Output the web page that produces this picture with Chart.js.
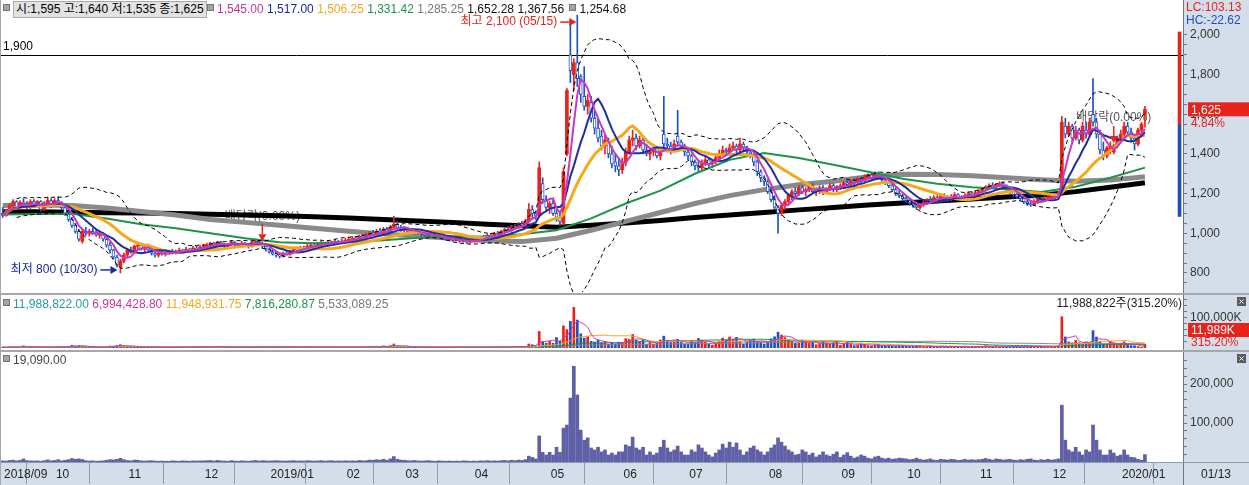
<!DOCTYPE html>
<html>
<head>
<meta charset="utf-8">
<script src="https://cdn.jsdelivr.net/npm/chart.js@4.4.1/dist/chart.umd.min.js"></script>
<style>
  html, body { margin: 0; padding: 0; background: #fff; }
  #wrap { position: relative; width: 1249px; height: 485px; background: #a7a7a7; overflow: hidden;
          font: 12px "Liberation Sans", "Noto Sans CJK KR", sans-serif; }
  .pane { position: absolute; left: 1px; width: 1248px; }
  .lg { position: absolute; white-space: nowrap; line-height: 14px; }
  .sq { display: inline-block; width: 5px; height: 5px; background: #a4a4a4; border: 1px solid #777;
        margin-right: 3px; vertical-align: 2px; }
  #ohlcBox { display: inline-block; background: #e3e3e3; border: 1px solid #a9a9a9; padding: 0 2px; line-height: 15px; }
</style>
</head>
<body>
<div id="wrap">
  <div class="pane" style="top:0;height:293px"><canvas id="priceChart"></canvas></div>
  <div class="pane" style="top:295px;height:55px"><canvas id="volChart"></canvas></div>
  <div class="pane" style="top:352px;height:133px"><canvas id="amtChart"></canvas></div>

  <div class="lg" style="left:3px;top:1px"><span class="sq"></span><span id="ohlcBox"></span></div>
  <div class="lg" style="left:207px;top:2px"><span class="sq"></span><span style="color:#c8349c">1,545.00</span>
    <span style="color:#1c2b8f">1,517.00</span> <span style="color:#f2a81d">1,506.25</span>
    <span style="color:#1b9446">1,331.42</span> <span style="color:#777">1,285.25</span>
    <span style="color:#111">1,652.28</span> <span style="color:#111">1,367.56</span>
    <span class="sq" style="margin-left:2px"></span><span style="color:#111">1,254.68</span></div>

  <div class="lg" style="left:3px;top:297px"><span class="sq"></span><span id="volLast" style="color:#2a9a9a"></span>
    <span style="color:#c8349c">6,994,428.80</span> <span style="color:#f2a81d">11,948,931.75</span>
    <span style="color:#1b9446">7,816,280.87</span> <span style="color:#777">5,533,089.25</span></div>
  <div class="lg" id="volInfo" style="right:67px;top:296px;color:#222"></div>

  <div class="lg" style="left:3px;top:353px"><span class="sq"></span><span id="amtLast" style="color:#444"></span></div>
</div>

<script>
  // trading-day axis: month starts (index of first session) and their labels
  const monthStarts = [0, 15, 36, 58, 77, 99, 116, 136, 158, 179, 198, 221, 242, 261, 282, 303, 323];
  const monthLabels = ['2018/09', '10', '11', '12', '2019/01', '02', '03', '04', '05', '06', '07', '08', '09', '10', '11', '12', '2020/01'];
  const lastDateLabel = '01/13';
  const maxDateLabel = '05/15';
  const minDateLabel = '10/30';

  const opens = [
    1100,1090,1115,1140,1160,1130,1155,1150,1130,1160,1140,1160,1120,1150,1165,
    1145,1165,1155,1130,1100,1070,1040,1010,960,1010,1000,1010,1000,990,1000,970,940,915,880,830,860,
    890,915,905,935,940,920,930,915,900,890,900,895,905,900,910,905,915,910,920,915,925,920,
    930,935,940,950,940,955,945,935,945,955,945,940,950,945,935,955,960,945,935,
    920,905,895,890,885,900,895,910,920,915,930,925,935,940,935,945,950,945,955,950,960,955,
    960,965,970,975,970,985,980,990,1000,995,1010,1005,1020,1010,1030,1045,1030,
    1020,1025,1010,1015,1000,1005,995,990,1000,985,980,990,975,970,975,965,970,960,965,955,
    960,970,965,980,975,990,985,1000,995,1010,1020,1015,1035,1030,1045,1040,1060,1120,1100,1090,1250,1170,
    1130,1150,1100,1080,1050,1400,1900,1800,1860,1790,1690,1640,1660,1580,1530,1490,1440,1460,1400,1360,1340,
    1320,1360,1410,1470,1480,1440,1470,1420,1400,1410,1430,1390,1500,1450,1440,1420,1490,1460,1440,
    1410,1390,1360,1340,1330,1350,1370,1350,1360,1380,1400,1420,1410,1430,1440,1420,1450,1430,1410,1400,1360,1310,1280,
    1260,1210,1170,1130,1100,1140,1160,1190,1210,1200,1230,1210,1220,1240,1210,1220,1230,1205,1225,1240,1220,
    1235,1240,1255,1245,1265,1255,1275,1265,1285,1295,1280,1300,1285,1270,1255,1240,1220,1200,1190,
    1175,1165,1150,1140,1130,1145,1155,1170,1165,1180,1170,1190,1180,1170,1185,1195,1180,1175,1190,1200,1195,
    1205,1215,1225,1235,1240,1235,1245,1250,1235,1225,1210,1195,1185,1175,1160,1150,1145,1160,1170,1165,1175,
    1180,1185,1190,1200,1540,1500,1540,1480,1520,1470,1520,1500,1600,1560,1500,1420,1390,1420,1410,1440,
    1480,1500,1540,1510,1480,1450,1520,1595
  ];
  const highs = [
    1130,1120,1150,1170,1165,1165,1175,1160,1170,1170,1165,1165,1160,1180,1175,
    1175,1185,1160,1140,1110,1080,1050,1020,1020,1030,1020,1025,1015,1010,1005,980,955,920,890,870,900,
    925,930,940,955,950,935,945,925,910,905,915,910,915,920,915,925,920,930,925,935,935,940,
    945,950,955,955,960,960,950,950,965,960,950,960,955,950,960,970,965,955,940,
    925,915,905,900,905,910,915,925,930,935,935,945,950,945,955,960,955,965,960,970,965,970,
    975,980,985,980,990,995,1000,1010,1015,1020,1025,1030,1030,1040,1085,1060,1040,
    1035,1030,1025,1020,1015,1010,1000,1010,1005,995,1000,995,985,985,980,980,975,975,970,970,
    975,980,985,990,995,1000,1005,1010,1015,1025,1035,1040,1045,1055,1060,1070,1150,1140,1110,1360,1280,1190,
    1160,1170,1120,1100,1330,1730,2070,1880,2100,1800,1840,1700,1690,1620,1580,1520,1500,1480,1440,1400,1380,
    1380,1430,1490,1520,1500,1490,1480,1450,1430,1440,1440,1420,1690,1480,1460,1470,1620,1470,1450,
    1420,1400,1370,1360,1370,1390,1380,1370,1400,1420,1440,1430,1450,1460,1450,1480,1460,1440,1420,1400,1370,1320,1290,
    1270,1230,1190,1140,1150,1170,1200,1220,1230,1240,1240,1230,1250,1250,1230,1240,1240,1230,1250,1250,1240,
    1250,1260,1265,1270,1275,1285,1285,1295,1300,1305,1310,1310,1295,1280,1265,1250,1230,1215,1200,
    1185,1175,1160,1150,1150,1165,1175,1185,1190,1190,1200,1200,1190,1195,1205,1200,1190,1200,1210,1210,1215,
    1220,1230,1240,1250,1255,1250,1260,1255,1245,1230,1215,1200,1195,1180,1170,1165,1170,1180,1180,1185,1190,
    1195,1200,1210,1590,1580,1560,1550,1540,1530,1560,1560,1580,1780,1580,1520,1460,1440,1460,1450,1490,
    1520,1560,1560,1530,1500,1530,1560,1640
  ];
  const lows = [
    1080,1085,1110,1130,1120,1125,1140,1120,1125,1130,1135,1110,1115,1140,1130,
    1140,1150,1120,1090,1060,1030,1000,960,950,990,985,995,985,975,960,930,900,870,830,800,850,
    880,900,900,920,915,905,910,890,880,880,890,885,895,895,895,900,900,905,905,910,910,915,
    920,925,930,930,935,935,925,930,940,935,930,935,935,925,930,945,940,925,910,
    900,890,880,875,880,890,890,905,905,910,915,920,930,925,930,940,935,940,940,945,945,950,
    955,960,965,960,965,970,975,985,990,990,1000,1000,1005,1005,1025,1020,1010,
    1005,1000,1000,995,995,985,980,985,980,975,975,970,965,965,960,960,955,955,950,950,
    955,960,960,965,970,980,980,990,990,1000,1010,1010,1020,1025,1030,1035,1055,1080,1070,1085,1150,1110,
    1100,1090,1060,1040,1040,1390,1760,1720,1740,1660,1620,1600,1560,1500,1460,1420,1400,1380,1330,1310,1290,
    1300,1340,1400,1440,1420,1430,1400,1390,1370,1390,1380,1370,1430,1420,1400,1410,1440,1420,1390,
    1370,1340,1320,1310,1320,1340,1330,1330,1350,1370,1390,1390,1400,1420,1400,1410,1410,1390,1380,1340,1290,1260,1240,
    1200,1160,1120,1000,1090,1120,1150,1170,1180,1190,1200,1190,1210,1200,1190,1200,1195,1200,1215,1210,1210,
    1220,1230,1230,1240,1245,1250,1255,1260,1270,1270,1275,1275,1260,1245,1230,1210,1190,1180,1165,
    1155,1140,1130,1120,1120,1135,1145,1155,1160,1160,1165,1170,1160,1165,1175,1170,1165,1170,1185,1185,1190,
    1195,1205,1215,1225,1225,1225,1235,1225,1215,1200,1185,1175,1165,1150,1140,1135,1140,1150,1155,1160,1170,
    1170,1175,1180,1190,1480,1490,1460,1470,1450,1460,1480,1490,1540,1480,1400,1370,1380,1400,1400,1430,
    1460,1480,1490,1460,1420,1440,1500,1535
  ];
  const closes = [
    1090,1115,1140,1160,1130,1155,1150,1130,1160,1140,1160,1120,1150,1165,1145,
    1165,1155,1130,1100,1070,1040,1010,970,1010,1000,1010,1000,990,1000,970,940,915,880,840,860,890,
    915,905,935,940,920,930,915,900,890,900,895,905,900,910,905,915,910,920,915,925,920,930,
    935,940,950,940,955,945,935,945,955,945,940,950,945,935,955,960,950,935,920,
    905,895,890,885,900,895,910,920,915,930,925,935,940,935,945,950,945,955,950,960,955,960,
    965,970,975,970,985,980,990,1000,995,1010,1005,1020,1010,1030,1045,1030,1020,
    1025,1010,1015,1000,1005,995,990,1000,985,980,990,975,970,975,965,970,960,965,955,960,
    970,965,980,975,990,985,1000,995,1010,1020,1015,1035,1030,1045,1040,1060,1120,1100,1085,1330,1170,1130,
    1150,1100,1080,1060,1310,1720,1820,1860,1780,1700,1640,1670,1580,1530,1480,1440,1470,1400,1350,1340,1320,
    1360,1410,1470,1480,1440,1470,1420,1400,1410,1430,1390,1410,1450,1440,1420,1450,1460,1440,1410,
    1390,1360,1340,1330,1350,1370,1350,1360,1380,1400,1420,1410,1430,1440,1420,1450,1430,1410,1400,1360,1310,1280,1260,
    1210,1170,1130,1100,1140,1160,1190,1210,1200,1230,1210,1220,1240,1210,1220,1230,1205,1225,1240,1220,1235,
    1240,1255,1245,1265,1255,1275,1265,1285,1295,1280,1300,1285,1270,1255,1240,1220,1200,1190,1175,
    1165,1150,1140,1130,1145,1155,1170,1165,1180,1170,1190,1180,1170,1185,1195,1180,1175,1190,1200,1195,1205,
    1215,1225,1235,1240,1235,1245,1250,1235,1225,1210,1195,1185,1175,1160,1150,1145,1160,1170,1165,1175,1180,
    1185,1190,1200,1560,1500,1540,1480,1520,1470,1540,1500,1560,1560,1500,1420,1390,1430,1440,1440,1480,
    1500,1540,1510,1480,1450,1520,1550,1625
  ];
  // volume, thousand shares
  const volumesK = [
    2700,2200,3500,4400,2700,4000,7100,3100,2700,2200,2700,1800,3100,4800,2600,
    3500,5200,2600,4100,5600,8700,7000,8300,6500,3500,2500,3000,2000,2500,3100,4800,6600,6300,8300,11000,6700,
    4400,3300,5300,4800,3300,2700,3300,3900,2800,2200,2800,2200,2200,3300,2800,2200,3300,2700,2200,3200,2700,3200,
    3200,3700,4200,2700,4200,3200,2700,2100,3700,2600,2100,3200,2600,2100,3100,4200,2600,3700,3300,
    2700,3300,3900,3400,2800,2800,3300,3800,2700,3300,2700,3700,3200,2700,3200,3700,2600,3100,3700,2600,3100,2600,
    3100,2600,3100,2600,4100,3100,3500,5000,4500,5900,5000,6900,4500,7800,13400,6800,4900,
    4400,3500,3000,4000,3000,2500,3000,3500,2500,2000,3000,2600,2100,2600,2100,2600,2100,3100,2600,2100,
    2600,2100,3100,2600,3500,2500,3000,2500,3500,3900,2900,4400,3400,4800,3800,5700,13400,10900,7400,55000,21000,15900,
    21700,16000,34900,23400,73700,60900,88600,135000,93000,47100,32900,37600,22200,20000,25200,17700,21400,12600,16700,13300,19500,
    18300,31000,28200,45000,25400,21800,26800,12700,18300,12700,16200,26800,39400,25400,18300,21800,28900,18300,12700,
    12900,22300,18700,31700,25900,18700,12900,9400,16500,22300,33100,25900,36700,27300,35300,22300,12900,18700,25900,29500,22300,18700,12900,
    22000,30500,37300,52500,43200,34700,26300,22000,15300,16900,26300,22000,15300,19500,11000,15300,22000,15300,12700,16900,22000,
    9500,14300,19000,11900,7900,10300,14300,11900,7900,6300,10300,11900,7900,6300,7900,5600,6600,8400,7600,
    6800,5100,6000,8500,6000,4300,5100,6800,4300,3400,6000,5100,4300,6000,5100,3400,4300,6000,4300,5100,4300,
    5000,5800,7500,5800,4200,6700,5800,4200,5000,5800,4200,3300,5000,4200,5800,6700,4200,3300,5000,4200,5800,
    4200,5000,6700,104000,36800,20400,17300,25300,17400,12000,20400,16900,57900,36600,21200,12800,12800,21700,16100,10300,
    12000,20400,11800,8000,7500,4600,2887.5,11988.822
  ];
  // trading value, million won
  const valuesM = [
    3000,2500,4000,5000,3000,4500,8000,3500,3000,2500,3000,2000,3500,5500,3000,
    4000,6000,3000,4500,6000,9000,7000,8000,6500,3500,2500,3000,2000,2500,3000,4500,6000,5500,7000,9500,6000,
    4000,3000,5000,4500,3000,2500,3000,3500,2500,2000,2500,2000,2000,3000,2500,2000,3000,2500,2000,3000,2500,3000,
    3000,3500,4000,2500,4000,3000,2500,2000,3500,2500,2000,3000,2500,2000,3000,4000,2500,3500,3000,
    2500,3000,3500,3000,2500,2500,3000,3500,2500,3000,2500,3500,3000,2500,3000,3500,2500,3000,3500,2500,3000,2500,
    3000,2500,3000,2500,4000,3000,3500,5000,4500,6000,5000,7000,4500,8000,14000,7000,5000,
    4500,3500,3000,4000,3000,2500,3000,3500,2500,2000,3000,2500,2000,2500,2000,2500,2000,3000,2500,2000,
    2500,2000,3000,2500,3500,2500,3000,2500,3500,4000,3000,4500,3500,5000,4000,6000,15000,12000,8000,67000,25000,18000,
    25000,18000,38000,25000,87000,95000,164000,246000,172000,82000,56000,62000,36000,31000,38000,26000,31000,18000,23000,18000,26000,
    26000,44000,40000,64000,36000,31000,38000,18000,26000,18000,23000,38000,56000,36000,26000,31000,41000,26000,18000,
    18000,31000,26000,44000,36000,26000,18000,13000,23000,31000,46000,36000,51000,38000,49000,31000,18000,26000,36000,41000,31000,26000,18000,
    26000,36000,44000,62000,51000,41000,31000,26000,18000,20000,31000,26000,18000,23000,13000,18000,26000,18000,15000,20000,26000,
    12000,18000,24000,15000,10000,13000,18000,15000,10000,8000,13000,15000,10000,8000,10000,7000,8000,10000,9000,
    8000,6000,7000,10000,7000,5000,6000,8000,5000,4000,7000,6000,5000,7000,6000,4000,5000,7000,5000,6000,5000,
    6000,7000,9000,7000,5000,8000,7000,5000,6000,7000,5000,4000,6000,5000,7000,8000,5000,4000,6000,5000,7000,
    5000,6000,8000,146000,56000,31000,26000,38000,26000,18000,31000,26000,95000,56000,31000,18000,18000,31000,23000,15000,
    18000,31000,18000,12000,11000,7000,4400,19090
  ];

  // long moving averages (60 / 120 / 240), read every 10 sessions
  const maDays = [0,10,20,30,40,50,60,70,80,90,100,110,120,130,140,150,160,170,180,190,200,210,220,230,240,250,260,270,280,290,300,310,320,330];
  const ma60Line = [1095,1097,1098,1075,1045,1025,1000,975,955,950,955,965,978,985,983,995,1015,1075,1150,1215,1300,1370,1405,1380,1345,1310,1275,1250,1232,1222,1208,1235,1280,1331];
  const ma120Line = [1140,1142,1140,1128,1110,1092,1070,1055,1040,1025,1010,997,985,975,962,958,975,1015,1060,1105,1150,1190,1220,1245,1262,1285,1298,1296,1290,1280,1270,1262,1268,1285];
  const ma240Line = [1108,1108,1106,1104,1102,1100,1096,1092,1088,1083,1077,1070,1062,1055,1046,1038,1030,1040,1052,1065,1080,1092,1105,1118,1130,1142,1153,1163,1173,1183,1192,1210,1232,1255];

  const hLineValue = 1900;
  const exDivDays = [75, 321];
  const exDivText = '배당락(0.00%)';
  const priceLimits = [1085, 1550, 2015];   // lower limit, prev close, upper limit
  const limitBarDay = 340;
  const priceTickLabels = [800, 1000, 1200, 1400, 1600, 1800, 2000];

  const xMin = -0.5, xMax = 341;
  const RED = '#e8231c', BLUE = '#1f4fc4', AXIS_BG = '#d4deea';
  const FONT = '"Liberation Sans", "Noto Sans CJK KR", sans-serif';
  Chart.defaults.font.family = FONT;
  Chart.defaults.font.size = 12;
  Chart.defaults.color = '#222';

  const N = closes.length;
  const fmt = v => String(Math.round(v)).replace(/\B(?=(\d{3})+(?!\d))/g, ',');
  const upDay = closes.map((c, i) => c >= opens[i]);

  function sma(arr, n) {
    return arr.map((_, i) => {
      const s = Math.max(0, i - n + 1);
      let sum = 0;
      for (let k = s; k <= i; k++) sum += arr[k];
      return sum / (i - s + 1);
    });
  }
  const pts = arr => arr.map((y, i) => ({ x: i, y }));

  // bollinger 20, 2 sigma
  const bbMid = sma(closes, 20);
  const bbUp = [], bbDn = [];
  closes.forEach((_, i) => {
    if (i < 4) { bbUp.push(null); bbDn.push(null); return; }
    const win = closes.slice(Math.max(0, i - 19), i + 1);
    const m = bbMid[i];
    const sd = Math.sqrt(win.reduce((a, v) => a + (v - m) * (v - m), 0) / win.length);
    bbUp.push(m + 2 * sd); bbDn.push(m - 2 * sd);
  });

  function arrow(ctx, x1, y1, x2, y2, color) {
    const ang = Math.atan2(y2 - y1, x2 - x1), hl = 7, hw = 4;
    const bx = x2 - hl * Math.cos(ang), by = y2 - hl * Math.sin(ang);
    ctx.strokeStyle = color; ctx.fillStyle = color; ctx.lineWidth = 1.5;
    ctx.beginPath(); ctx.moveTo(x1, y1); ctx.lineTo(bx, by); ctx.stroke();
    ctx.beginPath(); ctx.moveTo(x2, y2);
    ctx.lineTo(bx + hw * Math.sin(ang), by - hw * Math.cos(ang));
    ctx.lineTo(bx - hw * Math.sin(ang), by + hw * Math.cos(ang));
    ctx.closePath(); ctx.fill();
  }

  const frame = {
    id: 'frame',
    beforeDraw(chart, args, opts) {
      const { ctx, chartArea: a, width, height } = chart;
      ctx.save();
      ctx.fillStyle = '#fff'; ctx.fillRect(0, 0, width, height);
      ctx.fillStyle = AXIS_BG;
      ctx.fillRect(a.right, 0, width - a.right, height);
      if (opts.xStrip) ctx.fillRect(0, a.bottom, width, height - a.bottom);
      ctx.restore();
    },
    afterDraw(chart, args, opts) {
      const { ctx, chartArea: a, width, height } = chart;
      ctx.save();
      ctx.strokeStyle = '#6b7686'; ctx.lineWidth = 1;
      ctx.beginPath(); ctx.moveTo(a.right + 0.5, 0); ctx.lineTo(a.right + 0.5, height); ctx.stroke();
      if (opts.xStrip) {
        ctx.strokeStyle = '#8d9bb0';
        ctx.beginPath(); ctx.moveTo(0, a.bottom + 0.5); ctx.lineTo(width, a.bottom + 0.5); ctx.stroke();
        ctx.fillStyle = '#222'; ctx.font = '12px ' + FONT; ctx.textBaseline = 'middle'; ctx.textAlign = 'left';
        ctx.fillText(lastDateLabel, a.right + 18, (a.bottom + height) / 2 + 1);
      }
      if (opts.closeBox) {
        const bx = width - 12, by = 2;
        ctx.fillStyle = '#5a5a5a'; ctx.fillRect(bx, by, 9, 9);
        ctx.strokeStyle = '#fff'; ctx.lineWidth = 1;
        ctx.beginPath(); ctx.moveTo(bx + 2.5, by + 2.5); ctx.lineTo(bx + 6.5, by + 6.5);
        ctx.moveTo(bx + 6.5, by + 2.5); ctx.lineTo(bx + 2.5, by + 6.5); ctx.stroke();
      }
      ctx.restore();
    }
  };

  const priceMarks = {
    id: 'priceMarks',
    beforeDatasetsDraw(chart) {
      const { ctx, chartArea: a, scales: { x, y } } = chart;
      ctx.save();
      const yl = Math.round(y.getPixelForValue(hLineValue)) + 0.5;
      ctx.strokeStyle = '#000'; ctx.lineWidth = 1;
      ctx.beginPath(); ctx.moveTo(a.left, yl); ctx.lineTo(a.right, yl); ctx.stroke();
      ctx.font = '12px ' + FONT; ctx.fillStyle = '#000';
      ctx.textAlign = 'left'; ctx.textBaseline = 'bottom';
      ctx.fillText(fmt(hLineValue), a.left + 2, yl - 3);
      ctx.fillStyle = '#555'; ctx.textAlign = 'center'; ctx.textBaseline = 'middle';
      exDivDays.forEach(d => {
        ctx.fillText(exDivText, x.getPixelForValue(d), y.getPixelForValue(highs[d]) - 26);
      });
      ctx.restore();
    },
    afterDatasetsDraw(chart) {
      const { ctx, scales: { x, y } } = chart;
      ctx.save();
      exDivDays.forEach(d => {
        const px = x.getPixelForValue(d), py = y.getPixelForValue(highs[d]);
        arrow(ctx, px, py - 18, px, py - 1, RED);
      });
      ctx.font = '12px ' + FONT; ctx.textBaseline = 'middle'; ctx.textAlign = 'right';
      const hiMax = Math.max(...highs), iMax = highs.indexOf(hiMax);
      let px = x.getPixelForValue(iMax), py = y.getPixelForValue(hiMax) + 7;
      ctx.fillStyle = RED;
      ctx.fillText('최고 ' + fmt(hiMax) + ' (' + maxDateLabel + ')', px - 20, py);
      arrow(ctx, px - 17, py, px - 1, py, RED);
      const loMin = Math.min(...lows), iMin = lows.indexOf(loMin);
      px = x.getPixelForValue(iMin); py = y.getPixelForValue(loMin) - 3;
      ctx.fillStyle = '#1a2a9a';
      ctx.fillText('최저 ' + fmt(loMin) + ' (' + minDateLabel + ')', px - 23, py);
      arrow(ctx, px - 20, py, px - 3, py, '#1a2a9a');
      ctx.restore();
    },
    afterDraw(chart) {
      const { ctx, chartArea: a, width, scales: { y } } = chart;
      const last = closes[N - 1], prev = closes[N - 2];
      const loMin = Math.min(...lows), hiMax = Math.max(...highs);
      ctx.save();
      ctx.font = '12px ' + FONT; ctx.textAlign = 'left'; ctx.textBaseline = 'middle';
      ctx.fillStyle = RED; ctx.fillText('LC:' + ((last / loMin - 1) * 100).toFixed(2), a.right + 3, 8);
      ctx.fillStyle = BLUE; ctx.fillText('HC:' + ((last / hiMax - 1) * 100).toFixed(2), a.right + 3, 21);
      const by = y.getPixelForValue(last);
      ctx.fillStyle = RED; ctx.fillRect(a.right + 5, by - 7, width - a.right - 5, 14);
      ctx.fillStyle = '#fff'; ctx.fillText(fmt(last), a.right + 8, by + 1);
      ctx.fillStyle = RED; ctx.fillText(((last / prev - 1) * 100).toFixed(2) + '%', a.right + 8, by + 14);
      ctx.restore();
    }
  };

  const volMarks = {
    id: 'volMarks',
    afterDraw(chart) {
      const { ctx, chartArea: a, width, scales: { y } } = chart;
      const lastV = volumesK[N - 1], prevV = volumesK[N - 2];
      let by = Math.min(y.getPixelForValue(lastV), a.bottom - 18);
      ctx.save();
      ctx.font = '12px ' + FONT; ctx.textAlign = 'left'; ctx.textBaseline = 'middle';
      ctx.fillStyle = RED; ctx.fillRect(a.right + 5, by - 7, width - a.right - 5, 14);
      ctx.fillStyle = '#fff'; ctx.fillText(fmt(lastV) + 'K', a.right + 8, by + 1);
      ctx.fillStyle = RED; ctx.fillText(((lastV / prevV - 1) * 100).toFixed(2) + '%', a.right + 8, by + 13);
      ctx.restore();
    }
  };

  function rightAxis(min, max, tickVals, labelFn) {
    return {
      position: 'right', min, max,
      afterFit: s => { s.width = 66; s.paddingTop = 0; s.paddingBottom = 0; },
      afterBuildTicks: s => { s.ticks = tickVals.map(v => ({ value: v })); },
      ticks: { autoSkip: false, padding: 3, color: '#333', callback: labelFn },
      grid: { drawOnChartArea: false, drawTicks: true, tickLength: 4, color: '#6b7686' },
      border: { display: true, color: '#6b7686' }
    };
  }
  const xHidden = { type: 'linear', min: xMin, max: xMax, offset: false, display: false };
  const base = { animation: false, responsive: true, maintainAspectRatio: false, events: [] };
  const noPlug = { legend: { display: false }, tooltip: { enabled: false } };

  const priceMinor = [];
  for (let v = 750; v <= 2000; v += 50) priceMinor.push(v);

  document.getElementById('ohlcBox').textContent =
    '시:' + fmt(opens[N - 1]) + ' 고:' + fmt(highs[N - 1]) + ' 저:' + fmt(lows[N - 1]) + ' 종:' + fmt(closes[N - 1]);

  const lineDs = (data, color, width, order, extra) => Object.assign({
    type: 'line', data, borderColor: color, borderWidth: width, pointRadius: 0, tension: 0, order
  }, extra || {});

  new Chart(document.getElementById('priceChart'), {
    type: 'bar',
    data: {
      datasets: [
        { type: 'bar', data: closes.map((_, i) => ({ x: i, y: [lows[i], highs[i]] })),
          backgroundColor: upDay.map(u => u ? RED : BLUE), barThickness: 1, grouped: false, order: 10 },
        { type: 'bar', data: closes.map((c, i) => ({ x: i, y: [opens[i], c] })),
          backgroundColor: upDay.map(u => u ? RED : '#fff'), borderColor: upDay.map(u => u ? RED : BLUE),
          borderWidth: upDay.map(u => u ? 0 : 1), borderSkipped: false, barThickness: 3, minBarLength: 1,
          grouped: false, order: 9 },
        { type: 'bar', data: [{ x: limitBarDay, y: [priceLimits[0], priceLimits[1]] }, { x: limitBarDay, y: [priceLimits[1], priceLimits[2]] }],
          backgroundColor: [BLUE, RED], barThickness: 3, grouped: false, order: 9 },
        lineDs(maDays.map((d, k) => ({ x: d, y: ma240Line[k] })), '#000', 5, 12),
        lineDs(maDays.map((d, k) => ({ x: d, y: ma120Line[k] })), '#8a8a8a', 5, 11),
        lineDs(maDays.map((d, k) => ({ x: d, y: ma60Line[k] })), '#1e9447', 2, 5),
        lineDs(pts(sma(closes, 20)), '#f5a81c', 3, 4),
        lineDs(pts(sma(closes, 10)), '#1f2f9e', 2, 3),
        lineDs(pts(sma(closes, 5)), '#c43ac4', 2, 2),
        lineDs(pts(bbUp), '#000', 1, 1, { borderDash: [4, 3] }),
        lineDs(pts(bbDn), '#000', 1, 1, { borderDash: [4, 3] })
      ]
    },
    options: Object.assign({}, base, {
      layout: { padding: { left: 0, right: 0, top: 1, bottom: 1 } },
      plugins: Object.assign({ frame: {} }, noPlug),
      scales: {
        x: xHidden,
        y: rightAxis(704, 2171, priceMinor, v => priceTickLabels.includes(v) ? fmt(v) : '')
      }
    }),
    plugins: [frame, priceMarks]
  });

  // volume panel
  document.getElementById('volLast').textContent = fmt(volumesK[N - 1] * 1000) + '.00';
  document.getElementById('volInfo').textContent =
    fmt(volumesK[N - 1] * 1000) + '주(' + ((volumesK[N - 1] / volumesK[N - 2] - 1) * 100).toFixed(2) + '%)';
  const volTicks = [20000, 40000, 60000, 80000, 100000, 120000, 140000, 160000];
  new Chart(document.getElementById('volChart'), {
    type: 'bar',
    data: {
      datasets: [
        { type: 'bar', data: pts(volumesK), backgroundColor: upDay.map(u => u ? RED : BLUE),
          barThickness: 2, grouped: false, order: 9 },
        lineDs(pts(sma(volumesK, 120)), '#8a8a8a', 1, 5),
        lineDs(pts(sma(volumesK, 60)), '#1e9447', 1, 4),
        lineDs(pts(sma(volumesK, 20)), '#f5a81c', 1, 3),
        lineDs(pts(sma(volumesK, 5)), '#c43ac4', 1, 2)
      ]
    },
    options: Object.assign({}, base, {
      layout: { padding: { left: 0, right: 0, top: 1, bottom: 2 } },
      plugins: Object.assign({ frame: { closeBox: true } }, noPlug),
      scales: {
        x: xHidden,
        y: rightAxis(0, 173000, volTicks, v => v === 100000 ? fmt(v) + 'K' : '')
      }
    }),
    plugins: [frame, volMarks]
  });

  // trading value panel
  document.getElementById('amtLast').textContent = fmt(valuesM[N - 1]) + '.00';
  const amtTicks = [];
  for (let v = 20000; v <= 260000; v += 20000) amtTicks.push(v);
  new Chart(document.getElementById('amtChart'), {
    type: 'bar',
    data: {
      datasets: [
        { type: 'bar', data: pts(valuesM), backgroundColor: '#6060a8', barThickness: 3, grouped: false }
      ]
    },
    options: Object.assign({}, base, {
      layout: { padding: { left: 0, right: 0, top: 1, bottom: 0 } },
      plugins: Object.assign({ frame: { closeBox: true, xStrip: true } }, noPlug),
      scales: {
        x: {
          type: 'linear', min: xMin, max: xMax, offset: false, position: 'bottom',
          afterBuildTicks: s => { s.ticks = monthStarts.map(v => ({ value: v - 0.5 })); },
          afterFit: s => { s.height = 23; s.paddingLeft = 0; s.paddingRight = 0; },
          ticks: { autoSkip: false, maxRotation: 0, align: 'start', labelOffset: 3, padding: -17,
                   color: '#222', callback: (v, i) => monthLabels[i] },
          grid: { drawOnChartArea: false, drawTicks: true, tickLength: 22, color: '#8d9bb0' },
          border: { display: true, color: '#8d9bb0' }
        },
        y: rightAxis(0, 280000, amtTicks, v => v % 100000 === 0 ? fmt(v) : '')
      }
    }),
    plugins: [frame]
  });
</script>
</body>
</html>
